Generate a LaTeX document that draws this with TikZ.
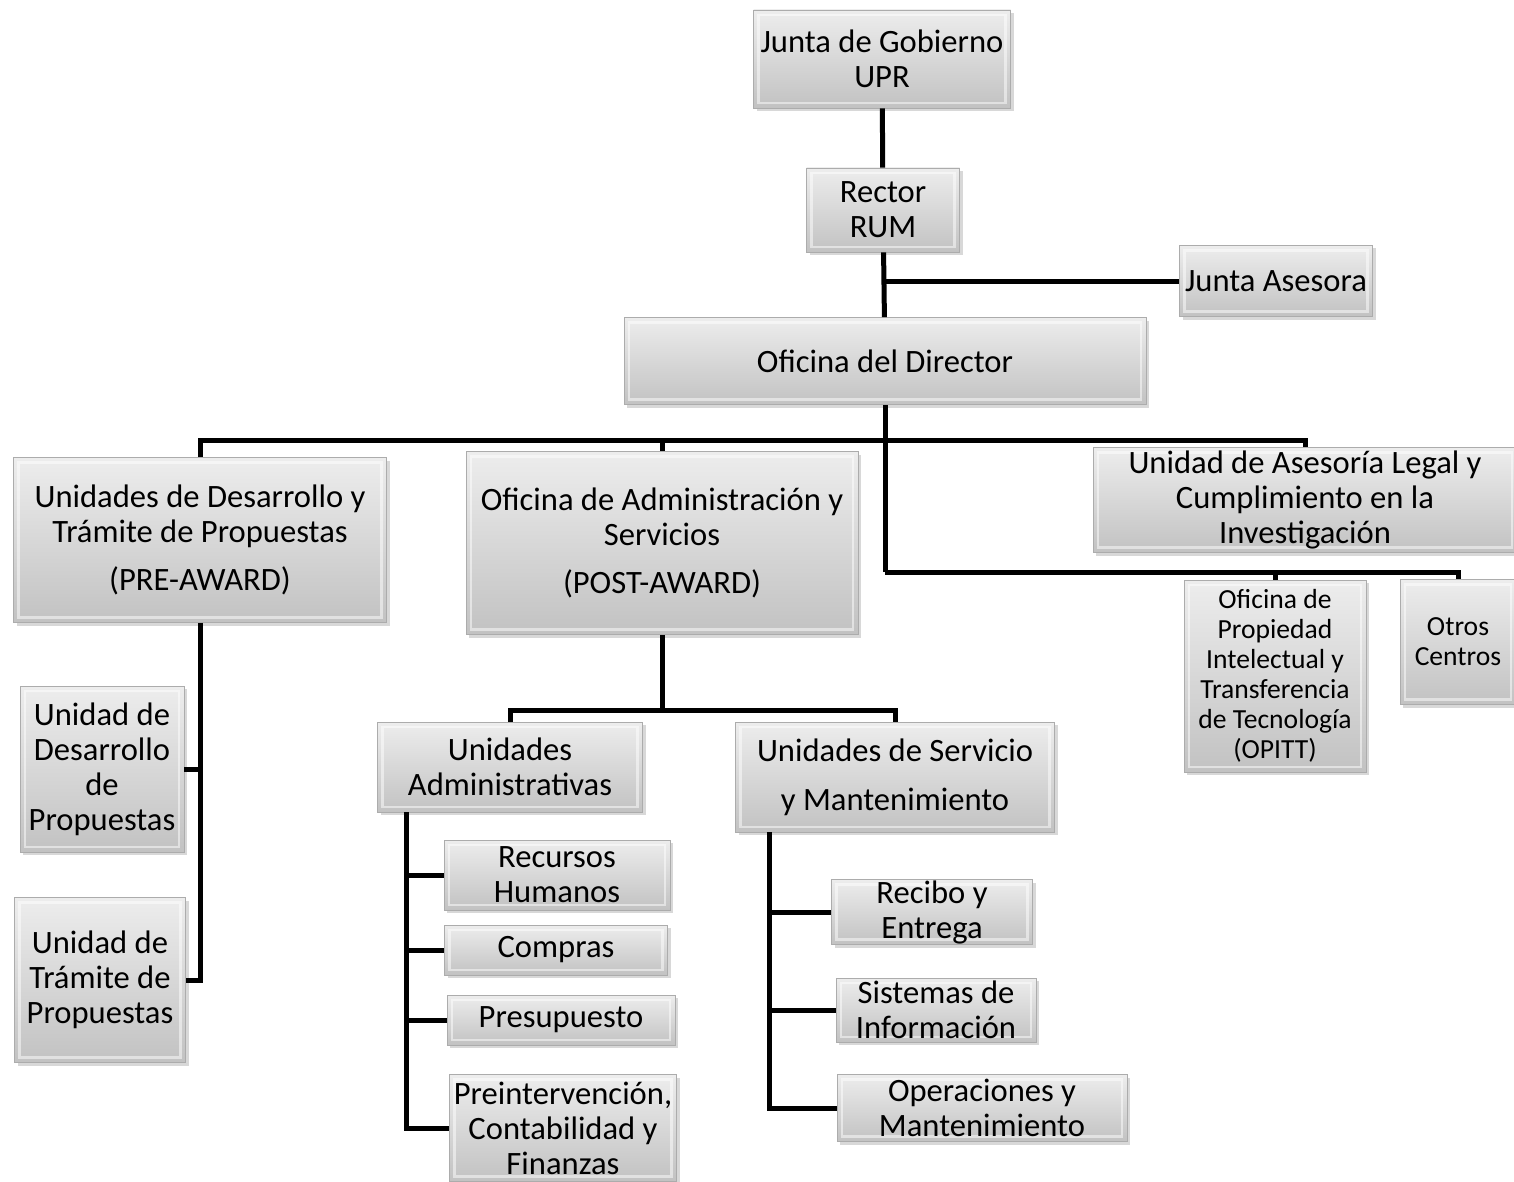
\documentclass[tikz,border=0pt]{standalone}
\usepackage{fontspec}
\setmainfont{Carlito}
\usetikzlibrary{shadows}
\tikzset{
    box/.style={draw=gray!65, top color=gray!14, bottom color=gray!48,
        inner sep=0pt, align=center, font=\fontsize{16.3}{17.5}\selectfont,
        drop shadow={shadow xshift=1.5pt, shadow yshift=-1.5pt, opacity=0.3},
        path picture={\draw[white, opacity=0.5, line width=1.2pt]
            ([shift={(2.5pt,2.5pt)}]path picture bounding box.south west) rectangle
            ([shift={(-2.5pt,-2.5pt)}]path picture bounding box.north east);}},
    small box/.style={box, font=\fontsize{13.8}{15}\selectfont},
    link/.style={line width=2.5pt, black},
}

\begin{document}
\begin{tikzpicture}[x=0.5pt, y=-0.5pt]
                \useasboundingbox[fill=white] (0,0) rectangle (1514,1182);

                \node[box, minimum width=128.5pt, minimum height=49pt] (jg) at (882,59) {Junta de Gobierno\\UPR};
                \node[box, minimum width=76.5pt, minimum height=42pt] (rec) at (883,210) {Rector\\RUM};
                \node[box, minimum width=96.5pt, minimum height=35.5pt] (ja) at (1276,281) {Junta Asesora};
                \node[box, minimum width=261pt, minimum height=43.5pt] (dir) at (885,361) {Oficina del Director};

                \node[box, minimum width=186.5pt, minimum height=82.5pt] (pre) at (200,540) {Unidades de Desarrollo y\\Trámite de Propuestas\\[6.5pt](PRE-AWARD)};
                \node[box, minimum width=196pt, minimum height=91.5pt] (post) at (662,543) {Oficina de Administración y\\Servicios\\[6.5pt](POST-AWARD)};
                \node[box, minimum width=212pt, minimum height=52.5pt] (leg) at (1305,500) {Unidad de Asesoría Legal y\\Cumplimiento en la\\Investigación};
                \node[small box, minimum width=91pt, minimum height=96pt] (opitt) at (1275,676) {Oficina de\\Propiedad\\Intelectual y\\Transferencia\\de Tecnología\\(OPITT)};
                \node[small box, minimum width=58pt, minimum height=62.5pt] (otros) at (1458,642) {Otros\\Centros};

                \node[box, minimum width=82pt, minimum height=83pt] (udp) at (102,769) {Unidad de\\Desarrollo\\de\\Propuestas};
                \node[box, minimum width=85.5pt, minimum height=82.5pt] (utp) at (100,980) {Unidad de\\Trámite de\\Propuestas};

                \node[box, minimum width=132.5pt, minimum height=45pt] (ua) at (510,767) {Unidades\\Administrativas};
                \node[box, minimum width=159.5pt, minimum height=55pt] (us) at (895,777) {Unidades de Servicio\\[7pt]y Mantenimiento};

                \node[box, minimum width=113pt, minimum height=35pt] (rh) at (557,875) {Recursos\\Humanos};
                \node[box, minimum width=111.5pt, minimum height=25pt] (com) at (556,950) {Compras};
                \node[box, minimum width=114pt, minimum height=25pt] (pres) at (561,1020) {Presupuesto};
                \node[box, minimum width=113.5pt, minimum height=53.5pt] (pci) at (563,1128) {Preintervención,\\Contabilidad y\\Finanzas};

                \node[box, minimum width=100.5pt, minimum height=32.5pt] (rye) at (932,912) {Recibo y\\Entrega};
                \node[box, minimum width=100pt, minimum height=32pt] (si) at (936,1010) {Sistemas de\\Información};
                \node[box, minimum width=145pt, minimum height=33.5pt] (oym) at (982,1108) {Operaciones y\\Mantenimiento};

                \coordinate (b1) at (885,440);
                \coordinate (b2) at (885,572);
                \coordinate (b3) at (662,710);
                \coordinate (uat) at ([xshift=14.5pt]ua.south west);
                \coordinate (ust) at ([xshift=17pt]us.south west);

                \draw[link] (jg) -- (rec);
                \draw[link] (rec) -- (dir);
                \draw[link] (rec.south |- ja) -- (ja);
                \draw[link] (dir.south -| b1) -- (b2);
                \draw[link] (pre.north) |- (b1) -| (leg.north);
                \draw[link] (b1) -| (post.north);
                \draw[link] (opitt.north) |- (b2) ;
                \draw[link] (b2) -| (otros.north);

                \draw[link] (pre.south) -- (pre.south |- utp) -- (utp.east);
                \draw[link] (pre.south |- udp) -- (udp.east);

                \draw[link] (post.south) -- (b3);
                \draw[link] (ua.north) |- (b3) -| (us.north);

                \draw[link] (uat) |- (pci.west);
                \foreach \n in {rh, com, pres}
                    \draw[link] (uat |- \n.west) -- (\n.west);

                \draw[link] (ust) |- (oym.west);
                \foreach \n in {rye, si}
                    \draw[link] (ust |- \n.west) -- (\n.west);
            \end{tikzpicture}
\end{document}
